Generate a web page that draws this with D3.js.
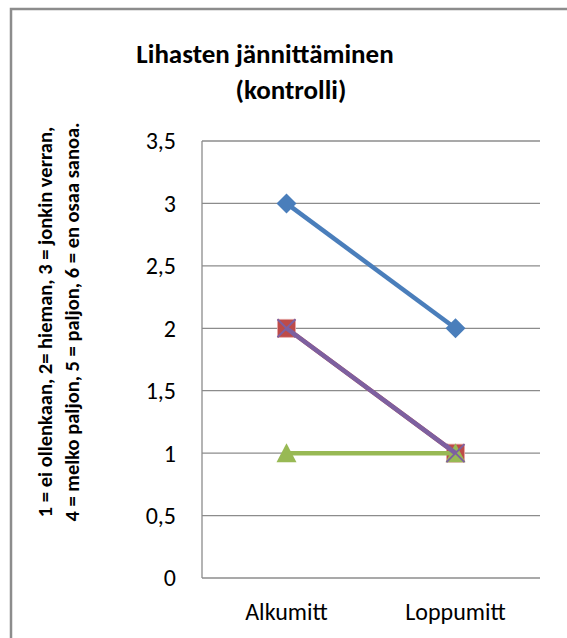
<!DOCTYPE html>
<html>
<head>
<meta charset="utf-8">
<script src="https://cdn.jsdelivr.net/npm/d3@7"></script>
<style>
  body { margin: 0; background: #fff; }
  text { font-family: Carlito, "Open Sans", "Liberation Sans", sans-serif; }
</style>
</head>
<body>
<svg id="chart" width="567" height="638"></svg>
<script>
const categories = ["Alkumitt", "Loppumitt"];
const seriesBlue = [3, 2];
const seriesRed = [2, 1];
const seriesGreen = [1, 1];
const seriesPurple = [2, 1];
const yTicks = [0, 0.5, 1, 1.5, 2, 2.5, 3, 3.5];
const titleLines = ["Lihasten jännittäminen", "(kontrolli)"];
const yLabelLines = ["1 = ei ollenkaan, 2= hieman, 3 = jonkin verran,",
                     "4 = melko paljon, 5 = paljon, 6 = en osaa sanoa."];

const series = [
  {values: seriesBlue, color: "#4a7ebb", marker: "diamond"},
  {values: seriesRed, color: "#be4b48", marker: "square"},
  {values: seriesGreen, color: "#98b954", marker: "triangle"},
  {values: seriesPurple, color: "#7d60a0", marker: "x"}
];

const svg = d3.select("#chart");
const plotL = 202, plotR = 540, plotT = 141, plotB = 578;

// outer frame
svg.append("rect")
  .attr("x", 11).attr("y", 9)
  .attr("width", 600).attr("height", 700)
  .attr("fill", "none").attr("stroke", "#8c8c8c").attr("stroke-width", 2.5);

const x = d3.scaleBand().domain(categories).range([plotL, plotR]);
const y = d3.scaleLinear().domain([0, 3.5]).range([plotB, plotT]);

// gridlines
svg.append("g").selectAll("line").data(yTicks.filter(d => d > 0)).join("line")
  .attr("x1", plotL).attr("x2", plotR)
  .attr("y1", d => y(d)).attr("y2", d => y(d))
  .attr("stroke", "#8c8c8c").attr("stroke-width", 1.3);

// axes lines
svg.append("line").attr("x1", plotL).attr("x2", plotL).attr("y1", plotT).attr("y2", plotB)
  .attr("stroke", "#8c8c8c").attr("stroke-width", 1.3);
svg.append("line").attr("x1", plotL).attr("x2", plotR).attr("y1", plotB).attr("y2", plotB)
  .attr("stroke", "#8c8c8c").attr("stroke-width", 1.3);

// y tick labels
svg.append("g").selectAll("text").data(yTicks).join("text")
  .attr("x", plotL - 26).attr("y", d => y(d)).attr("dy", "0.35em")
  .attr("text-anchor", "end").attr("font-size", 24).attr("fill", "#000")
  .text(d => String(d).replace(".", ","));

// x labels
svg.append("g").selectAll("text").data(categories).join("text")
  .attr("x", d => x(d) + x.bandwidth() / 2).attr("y", plotB + 42)
  .attr("text-anchor", "middle").attr("font-size", 24).attr("fill", "#000")
  .text(d => d);

// title
svg.append("text").attr("x", 265).attr("y", 63)
  .attr("text-anchor", "middle").attr("font-size", 27).attr("font-weight", "bold")
  .text(titleLines[0]);
svg.append("text").attr("x", 291).attr("y", 99)
  .attr("text-anchor", "middle").attr("font-size", 27).attr("font-weight", "bold")
  .text(titleLines[1]);

// y axis label
const yl = svg.append("g").attr("transform", "translate(0,322) rotate(-90)");
yLabelLines.forEach((t, i) => {
  yl.append("text").attr("x", 0).attr("y", 52 + i * 27)
    .attr("text-anchor", "middle").attr("font-size", 20.5).attr("font-weight", "bold")
    .text(t);
});

const cx = (d, i) => x(categories[i]) + x.bandwidth() / 2;
const line = d3.line().x((d, i) => cx(d, i)).y(d => y(d));

series.forEach(s => {
  const g = svg.append("g");
  g.append("path").datum(s.values).attr("d", line)
    .attr("fill", "none").attr("stroke", s.color).attr("stroke-width", 4.5);
  const m = g.selectAll("g").data(s.values).join("g")
    .attr("transform", (d, i) => `translate(${cx(d, i)},${y(d)})`);
  if (s.marker === "diamond") {
    m.append("path").attr("d", "M0,-10L10,0L0,10L-10,0Z").attr("fill", s.color);
  } else if (s.marker === "square") {
    m.append("rect").attr("x", -9).attr("y", -9).attr("width", 18).attr("height", 18)
      .attr("fill", s.color).attr("stroke", "#e6a9a8").attr("stroke-width", 0.8);
  } else if (s.marker === "triangle") {
    m.append("path").attr("d", "M0,-10L10,9L-10,9Z").attr("fill", s.color);
  } else {
    m.append("path").attr("d", "M-9,-9L9,9M-9,9L9,-9")
      .attr("stroke", s.color).attr("stroke-width", 2);
  }
});
</script>
</body>
</html>
